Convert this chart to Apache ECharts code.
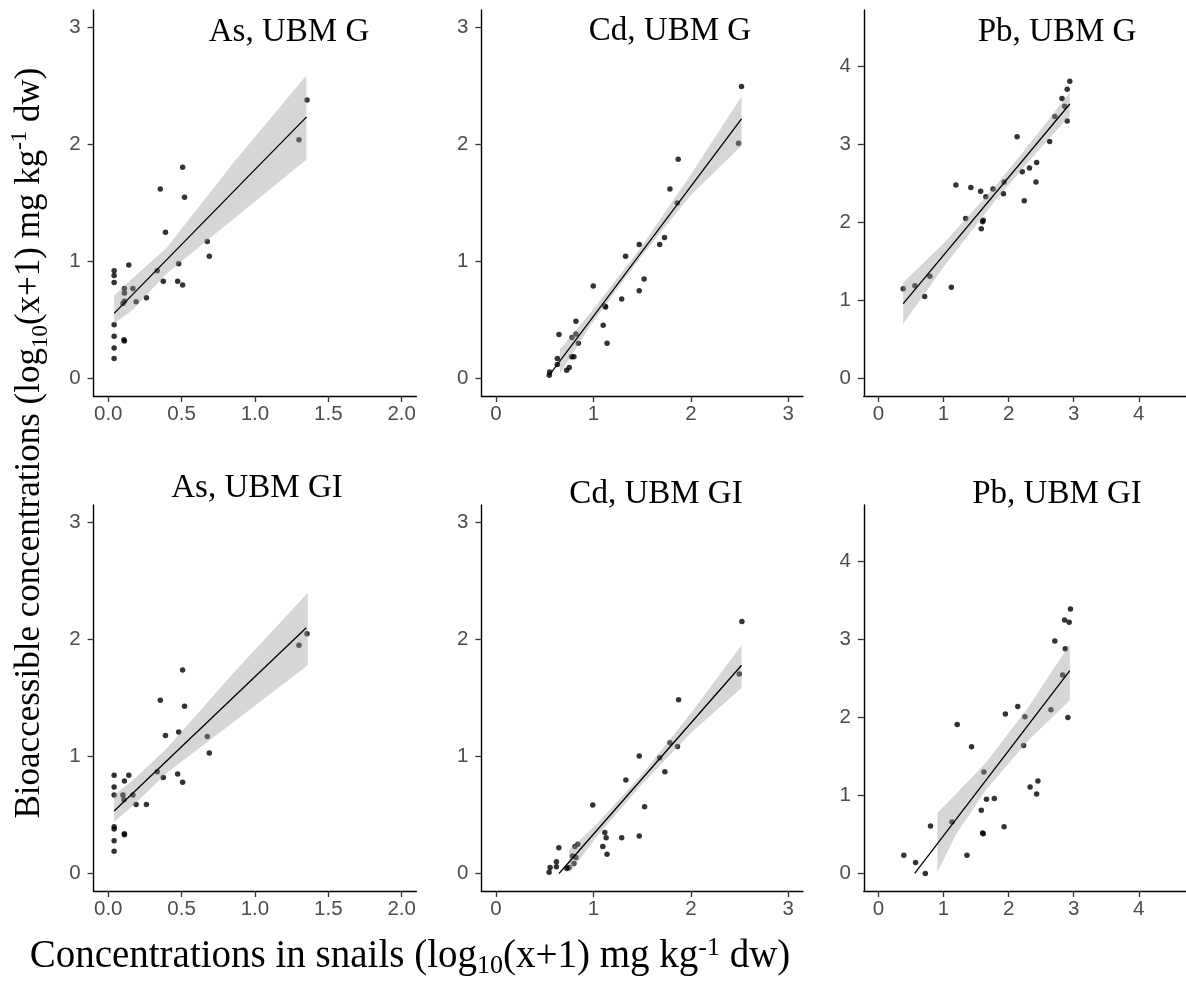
<!DOCTYPE html>
<html>
<head>
<meta charset="utf-8">
<script src="https://cdn.jsdelivr.net/npm/echarts@6/dist/echarts.min.js"></script>
<style>html,body{margin:0;padding:0;background:#fff}#c{width:1186px;height:989px}</style>
</head>
<body>
<div id="c"></div>
<script>
// ---------- data ----------
const titles = ['As, UBM G', 'Cd, UBM G', 'Pb, UBM G', 'As, UBM GI', 'Cd, UBM GI', 'Pb, UBM GI'];
const xTitle = '{a|Concentrations in snails (log}{s|10}{a|(x+1) mg kg}{p|-1}{a| dw)}';
const yTitle = '{a|Bioaccessible concentrations (log}{s|10}{a|(x+1) mg kg}{p|-1}{a| dw)}';

const asTicks = [0, 0.5, 1, 1.5, 2];
const cdTicks = [0, 1, 2, 3];
const pbTicks = [0, 1, 2, 3, 4];

// As, UBM G
const asG_x = [0.04,0.04,0.04,0.04,0.04,0.04,0.04,0.10,0.107,0.11,0.11,0.11,0.11,0.14,0.168,0.19,0.26,0.334,0.355,0.375,0.39,0.473,0.48,0.507,0.507,0.52,0.675,0.689,1.30,1.355];
const asG_y = [0.17,0.26,0.36,0.46,0.82,0.88,0.92,0.64,0.33,0.32,0.66,0.73,0.77,0.97,0.77,0.655,0.69,0.92,1.62,0.83,1.25,0.83,0.98,0.80,1.806,1.55,1.17,1.045,2.04,2.38];
const asG_fitX = [0.04, 1.352];
const asG_fitY = [0.556, 2.236];
const asG_bandX = [0.04, 0.17, 0.40, 0.85, 1.35];
const asG_bandLo = [0.47, 0.59, 0.90, 1.36, 1.87];
const asG_bandHi = [0.71, 0.86, 1.12, 1.84, 2.59];

// Cd, UBM G
const cdG_x = [0.547,0.55,0.63,0.63,0.646,0.725,0.752,0.776,0.80,0.78,0.82,0.82,0.845,0.998,1.10,1.118,1.125,1.14,1.29,1.33,1.47,1.47,1.52,1.68,1.73,1.785,1.86,1.87,2.49,2.52];
const cdG_y = [0.028,0.056,0.17,0.12,0.376,0.071,0.094,0.185,0.185,0.35,0.38,0.49,0.30,0.79,0.455,0.62,0.61,0.30,0.68,1.045,1.145,0.75,0.85,1.145,1.205,1.62,1.50,1.874,2.01,2.495];
const cdG_fitX = [0.547, 2.52];
const cdG_fitY = [0.028, 2.22];
const cdG_bandX = [0.656, 0.96, 1.48, 1.99, 2.52];
const cdG_bandLo = [0.04, 0.44, 1.03, 1.56, 1.99];
const cdG_bandHi = [0.25, 0.55, 1.11, 1.73, 2.41];

// Pb, UBM G
const pbG_x = [0.38,0.56,0.71,0.79,1.12,1.19,1.34,1.42,1.57,1.58,1.60,1.61,1.65,1.76,1.92,1.93,2.13,2.21,2.24,2.32,2.42,2.43,2.63,2.71,2.82,2.86,2.90,2.90,2.94];
const pbG_y = [1.15,1.19,1.05,1.31,1.17,2.48,2.05,2.45,2.40,1.92,2.01,2.03,2.33,2.43,2.37,2.52,3.10,2.65,2.28,2.70,2.52,2.77,3.04,3.36,3.59,3.49,3.71,3.30,3.81];
const pbG_fitX = [0.38, 2.94];
const pbG_fitY = [0.96, 3.52];
const pbG_bandX = [0.38, 1.0, 1.8, 2.4, 2.94];
const pbG_bandLo = [0.70, 1.43, 2.29, 2.87, 3.37];
const pbG_bandHi = [1.23, 1.73, 2.47, 3.09, 3.67];

// As, UBM GI
const asGI_x = [0.04,0.04,0.04,0.04,0.04,0.04,0.04,0.10,0.107,0.11,0.11,0.11,0.14,0.168,0.19,0.26,0.334,0.355,0.375,0.39,0.473,0.48,0.507,0.507,0.52,0.675,0.689,1.30,1.355];
const asGI_y = [0.19,0.28,0.38,0.40,0.67,0.74,0.84,0.67,0.63,0.34,0.33,0.79,0.84,0.67,0.59,0.59,0.87,1.48,0.82,1.18,0.85,1.21,0.78,1.74,1.43,1.17,1.03,1.95,2.05];
const asGI_fitX = [0.04, 1.35];
const asGI_fitY = [0.534, 2.10];
const asGI_bandX = [0.04, 0.17, 0.40, 0.85, 1.36];
const asGI_bandLo = [0.44, 0.58, 0.86, 1.29, 1.78];
const asGI_bandHi = [0.67, 0.80, 1.07, 1.71, 2.40];

// Cd, UBM GI
const cdGI_x = [0.545,0.555,0.62,0.62,0.645,0.727,0.75,0.785,0.80,0.82,0.81,0.84,0.993,1.096,1.117,1.13,1.14,1.29,1.333,1.47,1.47,1.525,1.68,1.733,1.785,1.863,1.874,2.497,2.524];
const cdGI_y = [0.01,0.05,0.057,0.10,0.22,0.043,0.05,0.15,0.086,0.137,0.23,0.25,0.585,0.23,0.35,0.305,0.165,0.305,0.80,1.005,0.32,0.57,0.99,0.87,1.117,1.085,1.485,1.705,2.153];
const cdGI_fitX = [0.647, 2.52];
const cdGI_fitY = [0.0, 1.78];
const cdGI_bandX = [0.75, 1.04, 1.49, 2.0, 2.52];
const cdGI_bandLo = [0.0, 0.32, 0.755, 1.20, 1.585];
const cdGI_bandHi = [0.20, 0.43, 0.84, 1.37, 1.95];

// Pb, UBM GI
const pbGI_x = [0.39,0.57,0.72,0.80,1.13,1.21,1.36,1.43,1.58,1.60,1.61,1.62,1.66,1.78,1.93,1.95,2.14,2.23,2.25,2.33,2.43,2.45,2.65,2.71,2.83,2.87,2.86,2.93,2.91,2.95];
const pbGI_y = [0.235,0.14,0.0,0.61,0.66,1.91,0.235,1.625,0.81,0.52,0.51,1.30,0.95,0.96,0.60,2.045,2.14,1.64,2.01,1.11,1.02,1.185,2.10,2.98,2.545,2.88,3.25,3.22,2.00,3.39];
const pbGI_fitX = [0.557, 2.94];
const pbGI_fitY = [0.0, 2.60];
const pbGI_bandX = [0.905, 1.19, 1.65, 2.31, 2.94];
const pbGI_bandLo = [0.02, 0.50, 1.07, 1.71, 2.22];
const pbGI_bandHi = [0.78, 1.02, 1.42, 2.14, 2.94];

// ---------- panel assembly ----------
const panels = [
  {x: asG_x, y: asG_y, fx: asG_fitX, fy: asG_fitY, bx: asG_bandX, bl: asG_bandLo, bh: asG_bandHi, xr: [-0.1, 2.1], yr: [-0.15, 3.15], xt: asTicks, yt: cdTicks, dec: 1},
  {x: cdG_x, y: cdG_y, fx: cdG_fitX, fy: cdG_fitY, bx: cdG_bandX, bl: cdG_bandLo, bh: cdG_bandHi, xr: [-0.15, 3.15], yr: [-0.15, 3.15], xt: cdTicks, yt: cdTicks, dec: 0},
  {x: pbG_x, y: pbG_y, fx: pbG_fitX, fy: pbG_fitY, bx: pbG_bandX, bl: pbG_bandLo, bh: pbG_bandHi, xr: [-0.225, 4.725], yr: [-0.225, 4.725], xt: pbTicks, yt: pbTicks, dec: 0},
  {x: asGI_x, y: asGI_y, fx: asGI_fitX, fy: asGI_fitY, bx: asGI_bandX, bl: asGI_bandLo, bh: asGI_bandHi, xr: [-0.1, 2.1], yr: [-0.15, 3.15], xt: asTicks, yt: cdTicks, dec: 1},
  {x: cdGI_x, y: cdGI_y, fx: cdGI_fitX, fy: cdGI_fitY, bx: cdGI_bandX, bl: cdGI_bandLo, bh: cdGI_bandHi, xr: [-0.15, 3.15], yr: [-0.15, 3.15], xt: cdTicks, yt: cdTicks, dec: 0},
  {x: pbGI_x, y: pbGI_y, fx: pbGI_fitX, fy: pbGI_fitY, bx: pbGI_bandX, bl: pbGI_bandLo, bh: pbGI_bandHi, xr: [-0.225, 4.725], yr: [-0.225, 4.725], xt: pbTicks, yt: pbTicks, dec: 0}
];

const colLeft = [93.6, 481.4, 863.8];
const colWidth = [322.7, 321.5, 322.7];
const rowTop = [10, 505];
const rowHeight = 386;
const titlePos = [[289, 32.5], [670, 31.5], [1057, 32.5], [257, 488.5], [656, 494.5], [1057, 494.5]];

const grids = [], xAxes = [], yAxes = [], series = [];
const labelFont = 'Liberation Sans, Arial, sans-serif';

panels.forEach((p, i) => {
  const col = i % 3, row = Math.floor(i / 3);
  grids.push({left: colLeft[col], top: rowTop[row], width: colWidth[col], height: rowHeight, containLabel: false});
  xAxes.push({
    type: 'value', gridIndex: i, min: p.xr[0], max: p.xr[1],
    axisLine: {show: true, onZero: false, lineStyle: {color: '#000', width: 1.4}},
    axisTick: {show: true, length: 6, customValues: p.xt, lineStyle: {color: '#333', width: 1.3}},
    axisLabel: {customValues: p.xt, color: '#4d4d4d', fontSize: 20.5, fontFamily: labelFont, margin: 8,
      formatter: v => Number(v).toFixed(p.dec)},
    splitLine: {show: false}
  });
  yAxes.push({
    type: 'value', gridIndex: i, min: p.yr[0], max: p.yr[1],
    axisLine: {show: true, onZero: false, lineStyle: {color: '#000', width: 1.4}},
    axisTick: {show: true, length: 6, customValues: p.yt, lineStyle: {color: '#333', width: 1.3}},
    axisLabel: {customValues: p.yt, color: '#4d4d4d', fontSize: 20.5, fontFamily: labelFont, margin: 13,
      formatter: v => String(Math.round(v))},
    splitLine: {show: false}
  });
  series.push({
    type: 'scatter', xAxisIndex: i, yAxisIndex: i, symbolSize: 5.5,
    itemStyle: {color: '#000'}, silent: true, z: 2,
    data: p.x.map((v, k) => [v, p.y[k]])
  });
  const bandData = p.bx.map((v, k) => [v, p.bl[k], p.bh[k]]);
  series.push({
    type: 'custom', xAxisIndex: i, yAxisIndex: i, silent: true, z: 3,
    encode: {x: 0, y: [1, 2]},
    data: bandData,
    renderItem: (params, api) => {
      if (params.dataIndex !== 0) return null;
      const pts = [];
      bandData.forEach(d => pts.push(api.coord([d[0], d[2]])));
      for (let k = bandData.length - 1; k >= 0; k--) pts.push(api.coord([bandData[k][0], bandData[k][1]]));
      return {type: 'polygon', shape: {points: pts}, style: {fill: 'rgba(153,153,153,0.4)'}};
    }
  });
  series.push({
    type: 'line', xAxisIndex: i, yAxisIndex: i, showSymbol: false, silent: true, z: 4,
    lineStyle: {color: '#000', width: 1.3},
    data: p.fx.map((v, k) => [v, p.fy[k]])
  });
});

const serif = 'Liberation Serif, Times New Roman, serif';
const richAxis = (fs) => ({
  a: {fontSize: fs, fontFamily: serif, color: '#000', lineHeight: 44},
  s: {fontSize: Math.round(fs * 0.66), fontFamily: serif, color: '#000', lineHeight: 24, verticalAlign: 'bottom'},
  p: {fontSize: Math.round(fs * 0.66), fontFamily: serif, color: '#000', lineHeight: 30, verticalAlign: 'top'}
});

const graphics = titles.map((t, i) => ({
  type: 'text', x: titlePos[i][0], y: titlePos[i][1], silent: true,
  style: {text: t, fontSize: 33, fontFamily: serif, fill: '#000', align: 'center', verticalAlign: 'middle'}
}));
graphics.push({
  type: 'text', x: 410, y: 957, silent: true,
  style: {text: xTitle, align: 'center', verticalAlign: 'middle', rich: richAxis(39)}
});
graphics.push({
  type: 'text', x: 30, y: 443, rotation: Math.PI / 2, silent: true,
  style: {text: yTitle, align: 'center', verticalAlign: 'middle', rich: richAxis(35)}
});

const chart = echarts.init(document.getElementById('c'), null, {renderer: 'canvas'});
chart.setOption({
  animation: false,
  backgroundColor: '#fff',
  grid: grids, xAxis: xAxes, yAxis: yAxes, series: series, graphic: graphics
});
</script>
</body>
</html>
